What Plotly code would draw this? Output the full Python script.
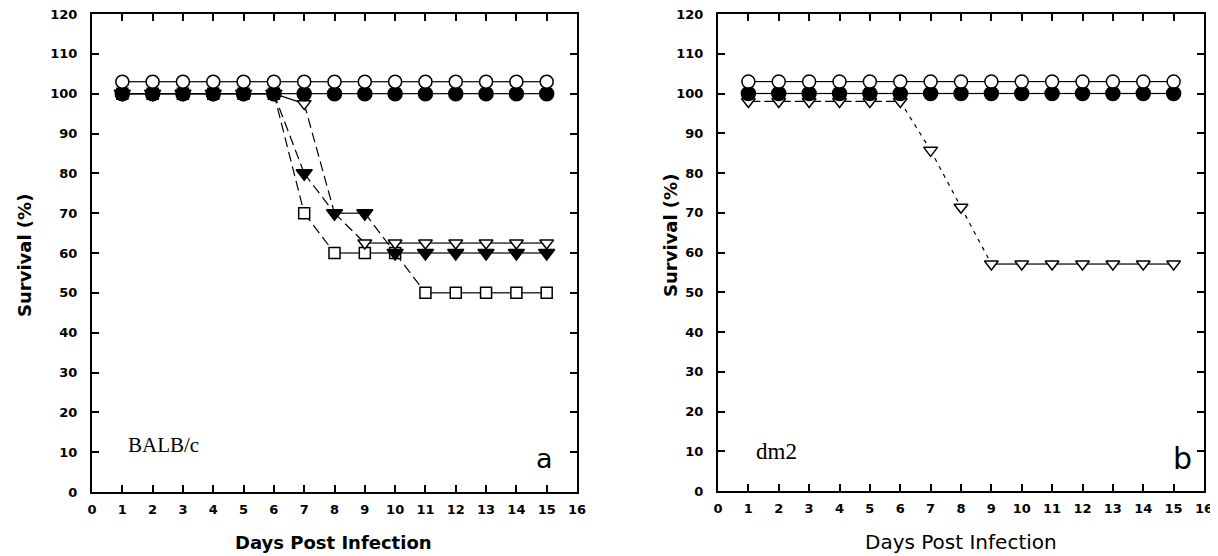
import plotly.graph_objects as go

# ---------------- data ----------------
days = [1, 2, 3, 4, 5, 6, 7, 8, 9, 10, 11, 12, 13, 14, 15]
x_ticks = [0, 1, 2, 3, 4, 5, 6, 7, 8, 9, 10, 11, 12, 13, 14, 15, 16]
y_ticks = [0, 10, 20, 30, 40, 50, 60, 70, 80, 90, 100, 110, 120]

# panel a  (BALB/c)
a_open_circle = [103, 103, 103, 103, 103, 103, 103, 103, 103, 103, 103, 103, 103, 103, 103]
a_filled_circle = [100, 100, 100, 100, 100, 100, 100, 100, 100, 100, 100, 100, 100, 100, 100]
a_open_square = [100, 100, 100, 100, 100, 100, 70, 60, 60, 60, 50, 50, 50, 50, 50]
a_open_tri = [100, 100, 100, 100, 100, 100, 97.5, 70, 62.5, 62.5, 62.5, 62.5, 62.5, 62.5, 62.5]
a_filled_tri = [100, 100, 100, 100, 100, 100, 80, 70, 70, 60, 60, 60, 60, 60, 60]

# panel b  (dm2)
b_open_circle = [103, 103, 103, 103, 103, 103, 103, 103, 103, 103, 103, 103, 103, 103, 103]
b_filled_circle = [100, 100, 100, 100, 100, 100, 100, 100, 100, 100, 100, 100, 100, 100, 100]
b_open_tri = [98, 98, 98, 98, 98, 98, 85.7, 71.4, 57.1, 57.1, 57.1, 57.1, 57.1, 57.1, 57.1]

label_a = "BALB/c"
label_b = "dm2"
panel_a = "a"
panel_b = "b"
x_title = "Days Post Infection"
y_title = "Survival (%)"

# ---------------- styles ----------------
BLACK = "black"
SERIF = "Liberation Serif, DejaVu Serif, serif"
SANS = "DejaVu Sans, Verdana, sans-serif"

fig = go.Figure()


def add_series(xs, ys, xa, ya, symbol, size, fill, flat_dash="solid",
               drop_dash="10px,5px", pre_dash=None, drop_threshold=5):
    groups = {}
    dropped = False
    for i in range(len(xs) - 1):
        d = ys[i] - ys[i + 1]
        if abs(d) > drop_threshold:
            dash = drop_dash
            dropped = True
        else:
            dash = pre_dash if (pre_dash and not dropped) else flat_dash
        gx, gy = groups.setdefault(dash, ([], []))
        gx += [xs[i], xs[i + 1], None]
        gy += [ys[i], ys[i + 1], None]
    for dash, (gx, gy) in groups.items():
        fig.add_trace(go.Scatter(x=gx, y=gy, mode="lines", xaxis=xa, yaxis=ya,
                                 line=dict(color=BLACK, width=1.2, dash=dash),
                                 hoverinfo="skip", showlegend=False))
    return dict(x=xs, y=ys, xa=xa, ya=ya, symbol=symbol, size=size, fill=fill)


def add_markers(m):
    fig.add_trace(go.Scatter(x=m["x"], y=m["y"], mode="markers",
                             xaxis=m["xa"], yaxis=m["ya"],
                             marker=dict(symbol=m["symbol"], size=m["size"],
                                         color=m["fill"],
                                         line=dict(color=BLACK, width=1.5)),
                             showlegend=False))


marks = []
# panel a
marks.append(add_series(days, a_open_square, "x", "y", "square", 11, "white"))
marks.append(add_series(days, a_open_tri, "x", "y", "triangle-down", 12, "white"))
marks.append(add_series(days, a_filled_tri, "x", "y", "triangle-down", 14, BLACK))
marks.append(add_series(days, a_filled_circle, "x", "y", "circle", 14, BLACK))
marks.append(add_series(days, a_open_circle, "x", "y", "circle", 13, "white"))
# panel b
marks.append(add_series(days, b_open_tri, "x2", "y2", "triangle-down", 12, "white",
                        drop_dash="4px,5px", pre_dash="12px,4px"))
marks.append(add_series(days, b_filled_circle, "x2", "y2", "circle", 14, BLACK))
marks.append(add_series(days, b_open_circle, "x2", "y2", "circle", 13, "white"))
for m in marks:
    add_markers(m)

# the page body adds an 8px margin; size the figure so it ends at the window edge
OFF = 8
W, H = 1218 - OFF, 556 - OFF


def px_x(p):
    return (p - OFF) / W


def px_y(p):
    return 1 - (p - OFF) / H


axis_common = dict(
    showline=True, linecolor=BLACK, linewidth=2, mirror="ticks",
    ticks="inside", ticklen=7, tickwidth=1.5, tickcolor=BLACK,
    showgrid=False, zeroline=False, automargin=False,
    ticklabeloverflow="allow",
    tickfont=dict(family=SANS, size=13, color=BLACK, weight="bold"),
)

fig.update_layout(
    width=W, height=H,
    margin=dict(l=0, r=0, t=0, b=0, autoexpand=False),
    paper_bgcolor="white", plot_bgcolor="white",
    showlegend=False,
    xaxis=dict(axis_common, domain=[px_x(92), px_x(577)], range=[0, 16],
               tickvals=x_ticks, anchor="y", ticklabelstandoff=4),
    yaxis=dict(axis_common, domain=[px_y(492), px_y(14)], range=[0, 120],
               tickvals=y_ticks, anchor="x", ticklabelstandoff=10),
    xaxis2=dict(axis_common, domain=[px_x(718), px_x(1204)], range=[0, 16],
                tickvals=x_ticks, anchor="y2", ticklabelstandoff=4),
    yaxis2=dict(axis_common, domain=[px_y(491), px_y(14)], range=[0, 120],
                tickvals=y_ticks, anchor="x2", ticklabelstandoff=10),
)

ann = []
# axis titles
ann.append(dict(x=px_x(333), y=px_y(542), text=x_title,
                font=dict(family=SANS, size=18, color=BLACK, weight="bold")))
ann.append(dict(x=px_x(961), y=px_y(542), text=x_title,
                font=dict(family=SANS, size=20, color=BLACK)))
ann.append(dict(x=px_x(24), y=px_y(256), text=y_title, textangle=-90,
                font=dict(family=SANS, size=18, color=BLACK, weight="bold")))
ann.append(dict(x=px_x(670), y=px_y(236), text=y_title, textangle=-90,
                font=dict(family=SANS, size=18, color=BLACK, weight="bold")))
# in-plot labels
ann.append(dict(x=px_x(163), y=px_y(445), text=label_a,
                font=dict(family=SERIF, size=21, color=BLACK)))
ann.append(dict(x=px_x(776), y=px_y(451), text=label_b,
                font=dict(family=SERIF, size=23, color=BLACK)))
ann.append(dict(x=px_x(544), y=px_y(458), text=panel_a,
                font=dict(family=SANS, size=27, color=BLACK)))
ann.append(dict(x=px_x(1182), y=px_y(458), text=panel_b,
                font=dict(family=SANS, size=30, color=BLACK)))
for a in ann:
    a.update(xref="paper", yref="paper", showarrow=False,
             xanchor="center", yanchor="middle")
fig.update_layout(annotations=ann)

fig.write_html("out.html")
